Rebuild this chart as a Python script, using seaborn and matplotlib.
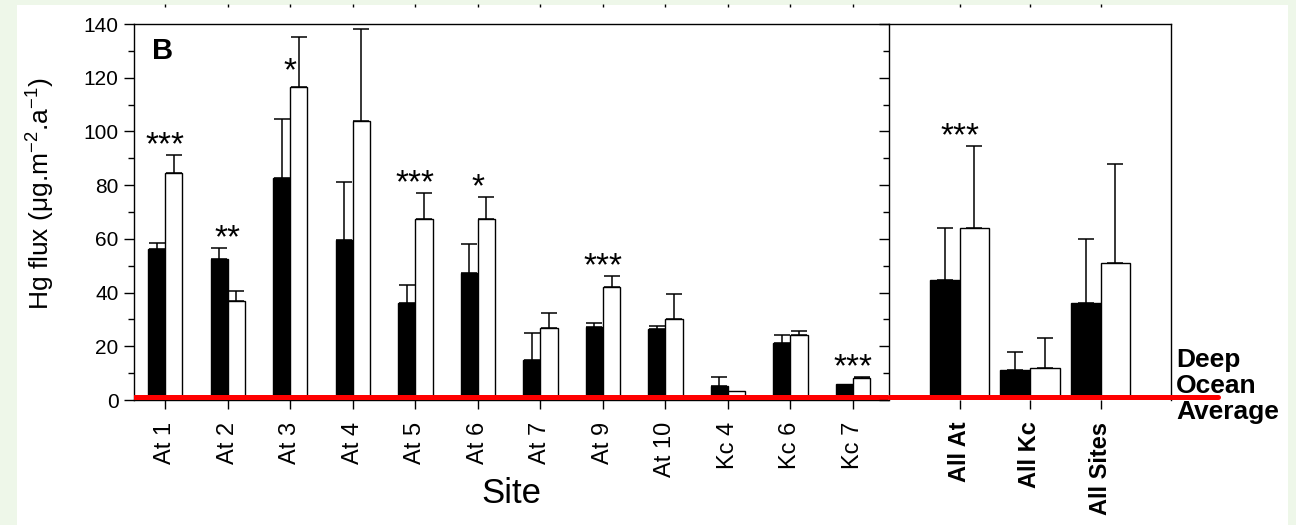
import matplotlib
matplotlib.use("Agg")
import matplotlib.pyplot as plt
import matplotlib.transforms as mtransforms
from matplotlib.patches import Rectangle
from matplotlib.ticker import MultipleLocator
import numpy as np
import pandas as pd
import seaborn as sns

# Individual sites (left panel)
sites = ["At 1", "At 2", "At 3", "At 4", "At 5", "At 6", "At 7", "At 9", "At 10", "Kc 4", "Kc 6", "Kc 7"]
dark_flux = [56.3, 52.5, 82.5, 59.6, 36.3, 47.2, 14.9, 27.3, 26.3, 5.3, 21.1, 5.8]
dark_err = [2.3, 4.0, 22.3, 21.4, 6.5, 11.0, 9.9, 1.3, 1.3, 3.4, 3.2, 0.0]
open_flux = [84.4, 36.9, 116.6, 103.7, 67.4, 67.4, 26.7, 42.0, 30.2, 3.4, 24.3, 8.3]
open_err = [6.8, 3.7, 18.4, 34.4, 9.8, 8.3, 5.6, 4.2, 9.3, 0.0, 1.5, 0.3]
site_stars = ["***", "**", "*", "", "***", "*", "", "***", "", "", "", "***"]

# Pooled groups (right panel)
groups = ["All At", "All Kc", "All Sites"]
group_dark = [44.7, 11.2, 36.3]
group_dark_err = [19.5, 6.8, 23.7]
group_open = [64.2, 12.0, 51.0]
group_open_err = [30.5, 11.0, 37.0]
group_stars = ["***", "", ""]

deep_ocean_avg = 1.2

sns.set_theme(style="ticks")
plt.rcParams["font.family"] = ["Liberation Sans", "DejaVu Sans"]
plt.rcParams["mathtext.fontset"] = "custom"
plt.rcParams["mathtext.rm"] = "Liberation Sans"
for key in ["text.color", "axes.labelcolor", "xtick.color", "ytick.color", "axes.edgecolor"]:
    plt.rcParams[key] = "black"

W, H = 1296, 525
fig = plt.figure(figsize=(W / 100, H / 100), dpi=100, facecolor="#eef7e9")
fig.patches.append(Rectangle((17 / W, 0), (1288 - 17) / W, 520 / H, transform=fig.transFigure,
                             facecolor="white", edgecolor="none", zorder=-10))

ax = fig.add_axes([134 / W, 1 - 400 / H, 754 / W, 376 / H])
ax2 = fig.add_axes([889 / W, 1 - 400 / H, 282 / W, 376 / H])

palette = {"dark": "black", "open": "white"}


def draw_panel(axis, cats, dark, dark_e, opn, opn_e, stars, width):
    df = pd.DataFrame({
        "site": cats * 2,
        "flux": dark + opn,
        "group": ["dark"] * len(cats) + ["open"] * len(cats),
    })
    sns.barplot(data=df, x="site", y="flux", hue="group", palette=palette, saturation=1,
                edgecolor="black", linewidth=1, width=width, errorbar=None, legend=False, ax=axis)
    # one-sided error bars on top of each bar
    for container, errs in zip(axis.containers, [dark_e, opn_e]):
        for bar, e in zip(container, errs):
            if e <= 0:
                continue
            axis.errorbar(bar.get_x() + bar.get_width() / 2, bar.get_height(), yerr=[[0], [e]],
                          fmt="none", ecolor="black", elinewidth=1.1, capsize=5.5, capthick=1.1, zorder=4)
    # significance stars
    for i, s in enumerate(stars):
        if not s:
            continue
        top = max(dark[i] + dark_e[i], opn[i] + opn_e[i])
        y = top + 0.3
        if top + 5 > 130:
            y = opn[i] + 2.5
        axis.text(i, y, s, ha="center", va="baseline", fontsize=24, color="black", zorder=6)
    axis.set_ylim(0, 140)
    axis.yaxis.set_major_locator(MultipleLocator(20))
    axis.yaxis.set_minor_locator(MultipleLocator(10))
    axis.set_xlabel("")
    axis.set_ylabel("")
    for sp in axis.spines.values():
        sp.set_color("black")
        sp.set_linewidth(1)
    axis.tick_params(axis="y", which="major", direction="out", length=7, width=1, colors="black")
    axis.tick_params(axis="y", which="minor", direction="out", length=4.5, width=1, colors="black")
    axis.tick_params(axis="x", direction="out", length=6.5, width=1, colors="black",
                     labelrotation=90, labelsize=17, pad=9)
    axis.set_facecolor("white")
    # small tick marks left over in the strip above the panel
    trans = mtransforms.blended_transform_factory(axis.transData, fig.transFigure)
    axis.vlines(np.arange(len(cats)), 1 - 7 / H, 1 - 4 / H, transform=trans,
                clip_on=False, color="black", lw=1)


draw_panel(ax, sites, dark_flux, dark_err, open_flux, open_err, site_stars, 0.55)
draw_panel(ax2, groups, group_dark, group_dark_err, group_open, group_open_err, group_stars, 0.85)

ax.set_xlim(-0.5, 11.56)
ax2.set_xlim(-1, 3)

ax.spines["right"].set_visible(False)
ax.tick_params(axis="y", labelsize=15, pad=4)
ax2.spines["bottom"].set_visible(False)
ax2.tick_params(axis="y", which="both", labelleft=False)
for lbl in ax2.get_xticklabels():
    lbl.set_fontweight("bold")

ax.set_xlabel("Site", fontsize=25, labelpad=0)
ax.set_ylabel(r"Hg flux ($\mathregular{\mu}$g.m$^{\mathregular{-2}}$.a$^{\mathregular{-1}}$)", fontsize=19)
ax.yaxis.set_label_coords(-0.103, 0.55)

ax.text(0.024, 0.965, "B", transform=ax.transAxes, ha="left", va="top",
        fontsize=21, fontweight="bold")

# deep ocean reference line across both panels
ax.axhline(deep_ocean_avg, color="red", lw=3.6, zorder=5)
ax2.axhline(deep_ocean_avg, xmin=0, xmax=1.167, color="red", lw=3.6, zorder=5, clip_on=False)
ax2.text(1.018, 0.037, "Deep\nOcean\nAverage", transform=ax2.transAxes, ha="left", va="center",
         fontsize=19, fontweight="bold", linespacing=1.12)

fig.savefig("out.png", dpi=100, facecolor=fig.get_facecolor())
